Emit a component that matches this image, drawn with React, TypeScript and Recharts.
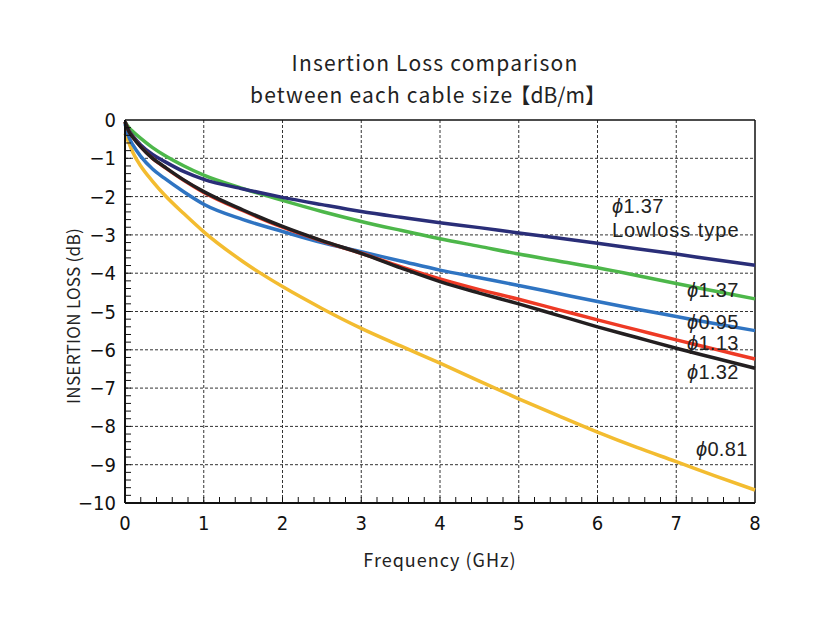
import React from 'react'
import { LineChart, Line, XAxis, YAxis, ReferenceLine } from 'recharts'

// ---------------------------------------------------------------------------
// Data
// ---------------------------------------------------------------------------

const freqGHz = [0, 0.05, 0.1, 0.2, 0.35, 0.5, 0.75, 1, 1.5, 2, 2.5, 3, 3.5, 4, 4.5, 5, 5.5, 6, 6.5, 7, 7.5, 8]

const lossLowloss137 = [-0.05, -0.28, -0.42, -0.65, -0.9, -1.08, -1.35, -1.55, -1.8, -2.02, -2.21, -2.39, -2.54, -2.68, -2.81, -2.95, -3.08, -3.22, -3.36, -3.5, -3.65, -3.79]
const loss137 = [-0.05, -0.2, -0.3, -0.48, -0.72, -0.92, -1.2, -1.44, -1.79, -2.1, -2.39, -2.65, -2.88, -3.1, -3.3, -3.5, -3.68, -3.86, -4.06, -4.27, -4.47, -4.67]
const loss095 = [-0.1, -0.45, -0.65, -0.95, -1.28, -1.52, -1.88, -2.2, -2.6, -2.91, -3.2, -3.44, -3.68, -3.92, -4.12, -4.32, -4.53, -4.74, -4.94, -5.13, -5.32, -5.5]
const loss113 = [-0.05, -0.3, -0.45, -0.7, -1.0, -1.23, -1.58, -1.89, -2.37, -2.8, -3.16, -3.48, -3.83, -4.15, -4.43, -4.68, -4.95, -5.22, -5.48, -5.74, -5.99, -6.24]
const loss132 = [-0.05, -0.3, -0.45, -0.7, -1.0, -1.22, -1.57, -1.87, -2.35, -2.78, -3.15, -3.48, -3.86, -4.22, -4.52, -4.8, -5.1, -5.4, -5.68, -5.96, -6.22, -6.48]
const loss081 = [-0.35, -0.6, -0.85, -1.2, -1.6, -1.95, -2.45, -2.92, -3.7, -4.35, -4.92, -5.44, -5.9, -6.35, -6.82, -7.28, -7.72, -8.15, -8.55, -8.92, -9.3, -9.66]

const xTickLabels = [0, 1, 2, 3, 4, 5, 6, 7, 8]
const yTickLabels = [0, -1, -2, -3, -4, -5, -6, -7, -8, -9, -10]

const data = freqGHz.map((f, i) => ({
  f,
  lowloss137: lossLowloss137[i],
  c137: loss137[i],
  c095: loss095[i],
  c113: loss113[i],
  c132: loss132[i],
  c081: loss081[i],
}))

// minor ticks every 0.2
const xMinor = Array.from({ length: 41 }, (_, i) => Math.round(i * 2) / 10)
const yMinor = Array.from({ length: 51 }, (_, i) => -Math.round(i * 2) / 10)

const TICK_FONT = "'Liberation Sans Narrow', 'DejaVu Sans Condensed', Arial, sans-serif"
const GOTHIC = "'Noto Sans CJK JP', 'Noto Sans', sans-serif"

const isMajor = (v: number) => Math.abs(v - Math.round(v)) < 1e-6

const fmt = (v: number) => (v < 0 ? '\u2212' + Math.abs(v) : String(v))

function XTick(props: any) {
  const { x, y, payload } = props
  const v = payload.value
  return (
    <g>
      {v > 0 && v < 8 && <line x1={x} x2={x} y1={y} y2={y - 6} stroke="#111" strokeWidth={1} />}
      {isMajor(v) && xTickLabels.includes(Math.round(v)) && (
        <text x={x} y={y + 27} textAnchor="middle" fontSize={20} fontFamily={TICK_FONT} fill="#111">
          {fmt(Math.round(v))}
        </text>
      )}
    </g>
  )
}

function YTick(props: any) {
  const { x, y, payload } = props
  const v = payload.value
  return (
    <g>
      {v < 0 && v > -10 && <line x1={x} x2={x + 6} y1={y} y2={y} stroke="#111" strokeWidth={1} />}
      {isMajor(v) && yTickLabels.includes(Math.round(v)) && (
        <text x={x - 9} y={y + 7} textAnchor="end" fontSize={20} fontFamily={TICK_FONT} fill="#111">
          {fmt(Math.round(v))}
        </text>
      )}
    </g>
  )
}

const series = [
  { key: 'c081', color: '#F3BC30' },
  { key: 'c095', color: '#2F74C2' },
  { key: 'c137', color: '#4DB74A' },
  { key: 'lowloss137', color: '#2A2E78' },
  { key: 'c113', color: '#EE3A25' },
  { key: 'c132', color: '#231F20' },
]

const labels = [
  { text: '1.37', left: 612, top: 195 },
  { text: 'Lowloss type', left: 612, top: 219, plain: true },
  { text: '1.37', left: 687, top: 279 },
  { text: '0.95', left: 687, top: 311 },
  { text: '1.13', left: 687, top: 332 },
  { text: '1.32', left: 687, top: 361 },
  { text: '0.81', left: 696, top: 438 },
]

export default function App() {
  return (
    <div style={{ position: 'absolute', left: 0, top: 0, width: 816, height: 621, background: '#fff' }}>
      <LineChart
        width={816}
        height={621}
        data={data}
        margin={{ top: 120, right: 61, bottom: 0, left: 0 }}
      >
        <XAxis
          dataKey="f"
          type="number"
          domain={[0, 8]}
          ticks={xMinor}
          interval={0}
          tickLine={false}
          tickSize={0}
          tickMargin={0}
          height={118}
          axisLine={{ stroke: '#111', strokeWidth: 2 }}
          tick={<XTick />}
        />
        <YAxis
          type="number"
          domain={[-10, 0]}
          ticks={yMinor}
          interval={0}
          tickLine={false}
          tickSize={0}
          tickMargin={0}
          width={125}
          axisLine={{ stroke: '#111', strokeWidth: 2 }}
          tick={<YTick />}
        />
        {xTickLabels.slice(1, -1).map((v) => (
          <ReferenceLine key={'gx' + v} x={v} stroke="#333" strokeWidth={1} strokeDasharray="3 2" />
        ))}
        {yTickLabels.slice(1, -1).map((v) => (
          <ReferenceLine key={'gy' + v} y={v} stroke="#333" strokeWidth={1} strokeDasharray="3 2" />
        ))}
        <ReferenceLine y={0} stroke="#111" strokeWidth={1.5} />
        <ReferenceLine x={8} stroke="#111" strokeWidth={1.5} />
        {series.map((s) => (
          <Line
            key={s.key}
            dataKey={s.key}
            type="monotone"
            stroke={s.color}
            strokeWidth={3.5}
            dot={false}
            isAnimationActive={false}
          />
        ))}
      </LineChart>

      <div
        style={{
          position: 'absolute',
          left: 0,
          width: 870,
          top: 46,
          textAlign: 'center',
          fontFamily: GOTHIC,
          fontSize: 21,
          lineHeight: '32px',
          letterSpacing: 1.2,
          color: '#222',
        }}
      >
        <div>Insertion Loss comparison</div>
        <div style={{ paddingRight: 14 }}>
          between each cable size<span style={{ letterSpacing: 0, marginLeft: -4 }}>【dB/m】</span>
        </div>
      </div>

      <div
        style={{
          position: 'absolute',
          left: 72,
          top: 316,
          transform: 'translate(-50%, -50%) rotate(-90deg)',
          whiteSpace: 'nowrap',
          fontFamily: GOTHIC,
          fontSize: 17,
          letterSpacing: 0.3,
          color: '#222',
        }}
      >
        INSERTION LOSS (dB)
      </div>

      <div
        style={{
          position: 'absolute',
          left: 0,
          width: 880,
          top: 546,
          textAlign: 'center',
          fontFamily: GOTHIC,
          fontSize: 18,
          letterSpacing: 1,
          color: '#222',
        }}
      >
        Frequency (GHz)
      </div>

      {labels.map((l, i) => (
        <div
          key={i}
          style={{
            position: 'absolute',
            left: l.left,
            top: l.top,
            fontFamily: 'Arial, "Liberation Sans", sans-serif',
            fontSize: 20,
            letterSpacing: l.plain ? 1 : 0.3,
            color: '#222',
            whiteSpace: 'nowrap',
          }}
        >
          {!l.plain && <span style={{ fontStyle: 'italic' }}>ϕ</span>}
          {l.text}
        </div>
      ))}
    </div>
  )
}
